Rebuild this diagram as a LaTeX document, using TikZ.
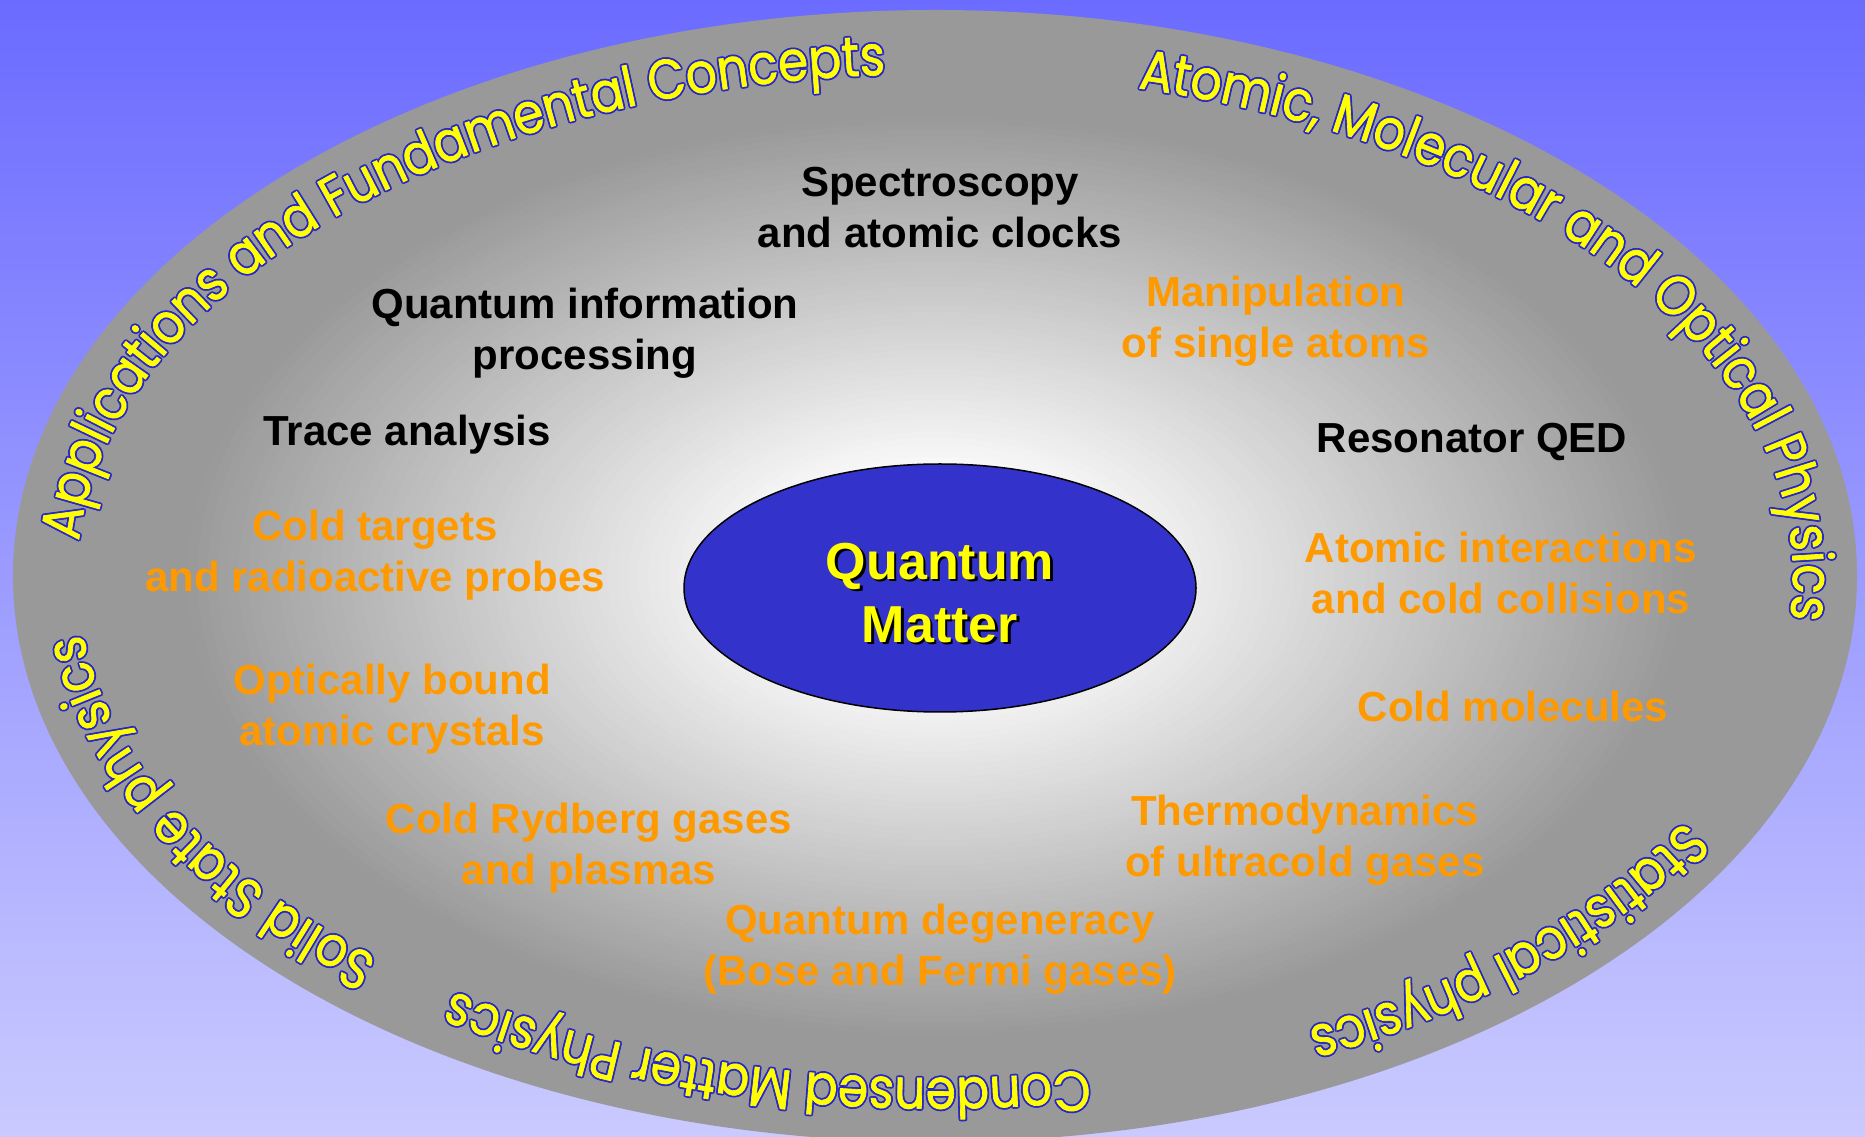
\documentclass[tikz,border=0pt]{standalone}
\usepackage{fontspec}
\setmainfont{Liberation Sans}
\newfontfamily\curvefont[FakeStretch=0.87,FakeBold=1.2]{Poppins}
\usetikzlibrary{decorations.text,shapes.geometric,calc}

\definecolor{bgtop}{RGB}{107,107,255}
\definecolor{bgbot}{RGB}{202,202,255}
\definecolor{rimgray}{RGB}{153,153,153}
\definecolor{qblue}{RGB}{51,51,204}
\definecolor{lblorange}{RGB}{255,153,0}
\definecolor{outblue}{RGB}{40,40,200}
\definecolor{wordyellow}{RGB}{255,255,0}

\tikzset{
  lbl/.style={font=\fontsize{42}{51}\selectfont\bfseries, align=center, inner sep=0pt},
  blk/.style={lbl, text=black},
  org/.style={lbl, text=lblorange},
  qm/.style={font=\fontsize{52}{63}\selectfont\bfseries, align=center, inner sep=0pt},
}

% #1 start angle, #2 end angle, #3 text, #4 colour
\newcommand\arcword[4]{%
  \path[decorate, decoration={text along path, text align=center,
     text={|\curvefont\fontsize{56}{62}\selectfont\color{#4}|#3}}]
    ($(935,560)+(#1:858pt and 502pt)$)
    arc[start angle=#1, end angle=#2, x radius=858pt, y radius=502pt];}

\newcommand\outlinedword[3]{%
  \foreach \dx/\dy in {1.8/0,-1.8/0,0/1.8,0/-1.8,1.3/1.3,-1.3/1.3,1.3/-1.3,-1.3/-1.3}{%
    \begin{scope}[shift={(\dx,\dy)}]\arcword{#1}{#2}{#3}{outblue}\end{scope}}%
  \arcword{#1}{#2}{#3}{wordyellow}}

\begin{document}
\begin{tikzpicture}[x=1pt,y=1pt]
\useasboundingbox (0,0) rectangle (1865,1136);
\shade[top color=bgtop, bottom color=bgbot] (0,0) rectangle (1865,1136);

% big gray ellipse, radial glow built from concentric fills
\foreach \i in {0,...,90}{%
  \pgfmathsetmacro\rr{1-\i/90}%
  \pgfmathsetmacro\pp{min(100,max(0,(0.82-\rr)/0.66*100))}%
  \fill[white!\pp!rimgray] (935,560) ellipse [x radius={922*\rr}, y radius={566*\rr}];
}

% curved titles
\outlinedword{180}{91}{Applications and Fundamental Concepts}
\outlinedword{80}{-11}{Atomic, Molecular and Optical Physics}
\outlinedword{-24}{-68}{Statistical physics}
\outlinedword{-75}{-129.5}{Condensed Matter Physics}
\outlinedword{-126}{-180}{Solid State physics}

% central ellipse
\node (core) [ellipse, draw=black, line width=1.5pt, fill=qblue,
  minimum width=512pt, minimum height=248pt, inner sep=0pt] at (940,548) {};
\node (coreshadow) [qm, text=black] at ([xshift=2.5pt,yshift=-7.5pt]core.center) {Quantum\\Matter};
\node (coretext) [qm, text=wordyellow] at ([yshift=-5pt]core.center) {Quantum\\Matter};

% black labels
\node (spec)  [blk] at (940,928) {Spectroscopy\\and atomic clocks};
\node (qinfo) [blk] at (585,803) {Quantum information\\processing};
\node (trace) [blk] at (407,701) {Trace analysis};
\node (reson) [blk] at (1472,694) {Resonator QED};

% orange labels
\node (manip) [org] at (1276,815) {Manipulation\\of single atoms};
\node (cold)  [org] at (375,581) {Cold targets\\and radioactive probes};
\node (inter) [org] at (1501,563) {Atomic interactions\\and cold collisions};
\node (optic) [org] at (392,427) {Optically bound\\atomic crystals};
\node (molec) [org] at (1513,430) {Cold molecules};
\node (rydb)  [org] at (589,288) {Cold Rydberg gases\\and plasmas};
\node (therm) [org] at (1305,296) {Thermodynamics\\of ultracold gases};
\node (degen) [org] at (940,187) {Quantum degeneracy\\(Bose and Fermi gases)};
\end{tikzpicture}
\end{document}
